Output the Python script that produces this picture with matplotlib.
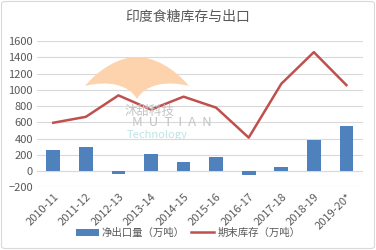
import matplotlib.pyplot as plt
import numpy as np
from matplotlib.patches import PathPatch, FancyBboxPatch
from matplotlib.path import Path

plt.rcParams['font.family'] = ['Noto Sans CJK SC', 'DejaVu Sans']

seasons = ['2010-11', '2011-12', '2012-13', '2013-14', '2014-15',
           '2015-16', '2016-17', '2017-18', '2018-19', '2019-20*']
net_export = [260, 296, -37, 207, 110, 171, -45, 45, 382, 549]
end_stock = [594, 667, 931, 756, 915, 780, 411, 1073, 1463, 1057]

W, H = 376, 250
fig = plt.figure(figsize=(W / 100, H / 100), dpi=100)
ax = fig.add_axes([37 / W, 1 - 187.3 / H, (362.7 - 37) / W, (187.3 - 41) / H])

# watermark fan
def fx(px):
    return px / W

def fy(py):
    return 1 - py / H

verts = [(fx(85), fy(86)),
         (fx(100), fy(68)), (fx(120), fy(57)), (fx(137), fy(57)),
         (fx(154), fy(57)), (fx(174), fy(68)), (fx(189), fy(86)),
         (fx(165), fy(80)), (fx(145), fy(85)), (fx(137), fy(99)),
         (fx(129), fy(85)), (fx(109), fy(80)), (fx(85), fy(86)),
         (fx(85), fy(86))]
codes = [Path.MOVETO,
         Path.CURVE4, Path.CURVE4, Path.CURVE4,
         Path.CURVE4, Path.CURVE4, Path.CURVE4,
         Path.CURVE4, Path.CURVE4, Path.CURVE4,
         Path.CURVE4, Path.CURVE4, Path.CURVE4,
         Path.CLOSEPOLY]
fig.patches.append(PathPatch(Path(verts, codes), transform=fig.transFigure,
                             facecolor='#fdd3ad', edgecolor='none', zorder=0))
fig.text(fx(150), fy(111), '沐甜科技', fontsize=9, color='#c4c4c4', ha='center', va='center')
fig.text(fx(172), fy(123), 'M  U  T  I  A  N', fontsize=9.5, color='#c4c4c4', ha='center', va='center')
fig.text(fx(157), fy(135), 'Technology', fontsize=8, color='#bfe3e3', ha='center', va='center')

x = np.arange(len(seasons))
bars = ax.bar(x, net_export, width=0.42, color='#4f81bd', label='净出口量（万吨）', zorder=2)
line, = ax.plot(x, end_stock, color='#c0504d', lw=1.8, label='期末库存（万吨）', zorder=3)

ax.set_xlim(-0.5, len(seasons) - 0.5)
ax.set_ylim(-200, 1600)
ax.set_yticks(range(-200, 1601, 200))
ax.set_xticks(x)
ax.set_xticklabels(seasons, rotation=45, ha='right', rotation_mode='anchor')
ax.tick_params(axis='both', length=0, labelsize=8, colors='#595959', pad=3)
ax.grid(axis='y', color='#d9d9d9', lw=0.8, zorder=0)
ax.set_axisbelow(True)
for s in ax.spines.values():
    s.set_visible(False)
ax.axhline(0, color='#d9d9d9', lw=0.8, zorder=1)
ax.patch.set_alpha(0)

fig.text(0.5, fy(17), '印度食糖库存与出口', fontsize=10, color='#595959', ha='center', va='center')

fig.legend([bars, line], ['净出口量（万吨）', '期末库存（万吨）'],
           loc='center', bbox_to_anchor=(0.5, fy(233)), ncol=2, frameon=False,
           fontsize=7.5, labelcolor='#595959', handlelength=2.2, columnspacing=0.6,
           handletextpad=0.3)

fig.patches.append(FancyBboxPatch((0.004, 0.006), 0.992, 0.988, boxstyle='round,pad=0,rounding_size=0.01',
                                  transform=fig.transFigure, facecolor='none',
                                  edgecolor='#d9d9d9', lw=0.8))

fig.savefig('out.png', dpi=100)
